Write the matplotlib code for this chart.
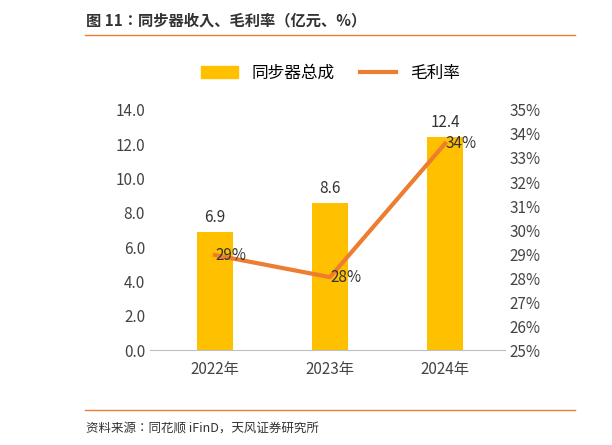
import matplotlib.pyplot as plt
from matplotlib import font_manager
from matplotlib.lines import Line2D

# pick whichever CJK family name matplotlib actually registered
names = {f.name for f in font_manager.fontManager.ttflist}
cjk = [n for n in ['Noto Sans CJK SC', 'Noto Sans CJK JP', 'Noto Sans CJK TC', 'Noto Sans CJK KR'] if n in names]
cjk += [n for n in sorted(names) if 'CJK' in n and n not in cjk]
plt.rcParams['font.family'] = 'sans-serif'
plt.rcParams['font.sans-serif'] = cjk + ['DejaVu Sans']

years = ['2022年', '2023年', '2024年']
revenue = [6.9, 8.6, 12.4]
margin = [28.96, 28.04, 33.6]
margin_labels = ['29%', '28%', '34%']

fig = plt.figure(figsize=(6.12, 4.45), dpi=100)
ax = fig.add_axes([0.245, 0.213, 0.58, 0.54])
x = range(len(years))
ax.bar(x, revenue, width=0.32, color='#FFC000', label='同步器总成')
for i, v in enumerate(revenue):
    ax.text(i, v + 0.35, f'{v}', ha='center', va='bottom', fontsize=11, color='#333333')
ax.set_ylim(0, 14)
ax.set_yticks([0, 2, 4, 6, 8, 10, 12, 14])
ax.set_yticklabels([f'{t:.1f}' for t in ax.get_yticks()])
ax.set_xlim(-0.565, 2.52)
ax.set_xticks(list(x))
ax.set_xticklabels(years)
for s in ['top', 'right', 'left']:
    ax.spines[s].set_visible(False)
ax.spines['bottom'].set_color('#bfbfbf')
ax.tick_params(axis='both', length=0, labelsize=11, colors='#444444')
ax.tick_params(axis='x', pad=8)

ax2 = ax.twinx()
ax2.plot(list(x), margin, color='#ED7D31', lw=3)
ax2.set_ylim(25, 35)
ax2.set_yticks(range(25, 36))
ax2.set_yticklabels([f'{t}%' for t in range(25, 36)])
for s in ['top', 'right', 'left', 'bottom']:
    ax2.spines[s].set_visible(False)
ax2.tick_params(axis='y', length=0, labelsize=11, colors='#444444')
for i, (m, l) in enumerate(zip(margin, margin_labels)):
    ax2.text(i + 0.0, m, l, ha='left', va='center', fontsize=11, color='#333333')

handles = [plt.Rectangle((0, 0), 1, 1, color='#FFC000'),
           Line2D([0], [0], color='#ED7D31', lw=3)]
fig.legend(handles, ['同步器总成', '毛利率'], loc='center', bbox_to_anchor=(0.54, 0.835),
           ncol=2, frameon=False, fontsize=12, handlelength=2.2, columnspacing=1.5)

fig.text(0.14, 0.955, '图 11：同步器收入、毛利率（亿元、%）', fontsize=11, fontweight='bold',
         color='#333333', va='center')
fig.add_artist(Line2D([0.139, 0.94], [0.921, 0.921], color='#ED7D31', lw=1))
fig.add_artist(Line2D([0.139, 0.94], [0.078, 0.078], color='#ED7D31', lw=1))
fig.text(0.14, 0.038, '资料来源：同花顺 iFinD，天风证券研究所', fontsize=9, color='#333333', va='center')

fig.savefig('out.png', dpi=100)
